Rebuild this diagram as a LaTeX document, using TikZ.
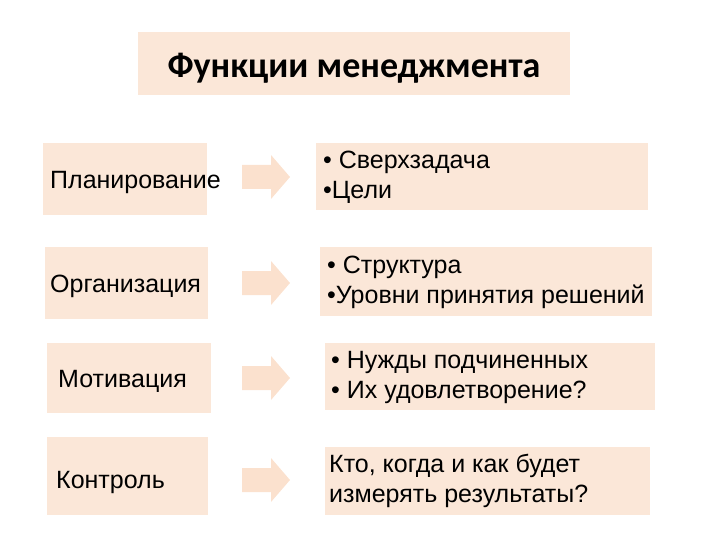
\documentclass[tikz,border=0pt]{standalone}
\usepackage{fontspec}
\setmainfont{Liberation Sans}
\newfontfamily\titlefont{Carlito}
\definecolor{boxc}{HTML}{FBE7D8}
\definecolor{arrc}{HTML}{FBE1CE}
\begin{document}
\begin{tikzpicture}[x=1pt,y=-1pt,
  lt/.style={anchor=west,inner sep=0pt,font=\fontsize{25}{28}\selectfont},
  rt/.style={anchor=west,inner sep=0pt,align=left,font=\fontsize{25}{30}\selectfont},
  arr/.pic={\fill[arrc] (-24,-12) -- (5,-12) -- (5,-22) -- (24,0) -- (5,22) -- (5,12) -- (-24,12) -- cycle;}]
\useasboundingbox (0,0) rectangle (720,540);
\fill[boxc] (138,32) rectangle (570,95);
\node[font=\titlefont\bfseries\fontsize{36}{40}\selectfont] (t) at (354,68) {Функции менеджмента};
% left
\fill[boxc] (43,143) rectangle (207,215);
\node[lt] (l1) at (50,182) {Планирование};
\fill[boxc] (45,247) rectangle (208,319);
\node[lt] (l2) at (50,286) {Организация};
\fill[boxc] (47,343) rectangle (211,413);
\node[lt] (l3) at (58,381) {Мотивация};
\fill[boxc] (47,437) rectangle (208,515);
\node[lt] (l4) at (56,482) {Контроль};
% arrows
\pic (a1) at (266,177) {arr};
\pic (a2) at (266,283) {arr};
\pic (a3) at (266,378) {arr};
\pic (a4) at (266,480) {arr};
% right
\fill[boxc] (316,143) rectangle (648,210);
\node[rt] (r1) at (323,177) {• Сверхзадача\\•Цели};
\fill[boxc] (320,247) rectangle (652,316);
\node[rt] (r2) at (327,282) {• Структура\\•Уровни принятия решений};
\fill[boxc] (325,343) rectangle (655,410);
\node[rt] (r3) at (331,377) {• Нужды подчиненных\\• Их удовлетворение?};
\fill[boxc] (325,447) rectangle (650,515);
\node[rt] (r4) at (329,481) {Кто, когда и как будет\\измерять результаты?};
\end{tikzpicture}
\end{document}
